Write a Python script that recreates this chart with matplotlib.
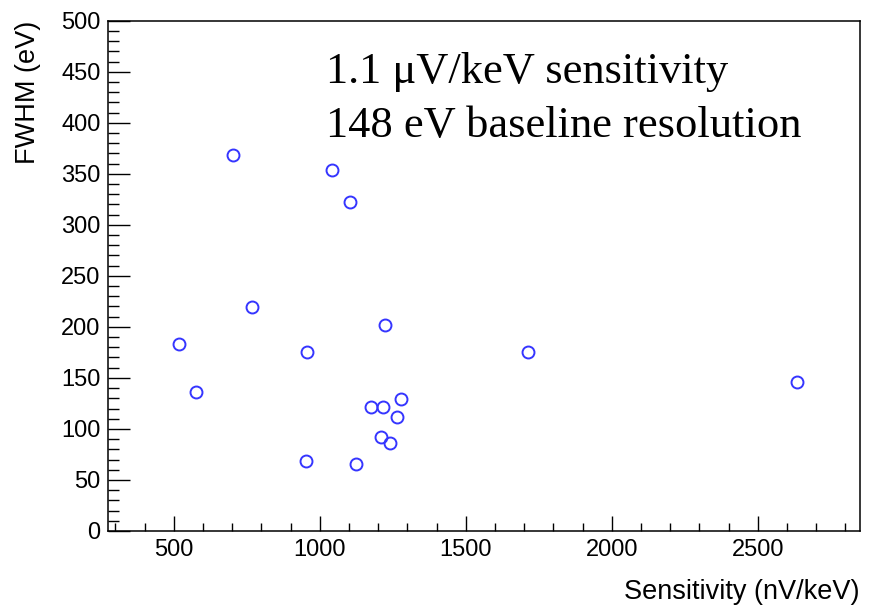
import matplotlib
matplotlib.use("Agg")
import matplotlib.pyplot as plt
from matplotlib.ticker import MultipleLocator

# -----------------------------
# Data
# -----------------------------
sensitivity = [517, 576, 767, 704, 1042, 1104, 957, 952, 1124,
               1224, 1175, 1215, 1277, 1263, 1210, 1242, 1713, 2633]   # nV/keV
fwhm = [183, 136.5, 219, 368, 353.5, 322.5, 175, 69, 66,
        202, 121, 121.5, 129, 112, 92, 86, 175, 146]                   # eV

x_range = (275, 2850)
y_range = (0, 500)

plt.rcParams['font.family'] = ['Liberation Sans', 'DejaVu Sans']

fig = plt.figure(figsize=(8.69, 6.09), dpi=100)
ax = fig.add_axes([0.1243, 0.1281, 0.8653, 0.8379])

ax.plot(sensitivity, fwhm, linestyle='none', marker='o', markersize=8.6,
        markerfacecolor='none', markeredgecolor='#3535ff', markeredgewidth=1.4)

ax.set_xlim(*x_range)
ax.set_ylim(*y_range)

# ROOT-like ticks: inward, only on bottom and left
ax.xaxis.set_major_locator(MultipleLocator(500))
ax.xaxis.set_minor_locator(MultipleLocator(100))
ax.yaxis.set_major_locator(MultipleLocator(50))
ax.yaxis.set_minor_locator(MultipleLocator(10))
ax.tick_params(axis='x', which='major', direction='in', length=11, width=1, labelsize=17, pad=5.5)
ax.tick_params(axis='x', which='minor', direction='in', length=5.5, width=1)
ax.tick_params(axis='y', which='major', direction='in', length=16, width=1, labelsize=17, pad=5.5)
ax.tick_params(axis='y', which='minor', direction='in', length=8, width=1)
for side in ax.spines.values():
    side.set_linewidth(1.1)

fig.text(0.9896, 0.006, 'Sensitivity (nV/keV)', ha='right', va='bottom', fontsize=19.5)
fig.text(0.032, 0.966, 'FWHM (eV)', ha='center', va='top', rotation=90, fontsize=19.5)

# annotation (va='baseline' refers to the last line)
ax.text(0.29, 0.7725, '1.1 \u03bcV/keV sensitivity\n148 eV baseline resolution',
        transform=ax.transAxes, ha='left', va='baseline', fontsize=32,
        family=['Liberation Serif', 'DejaVu Serif'], linespacing=1.45)

fig.savefig('out.png', dpi=100)
